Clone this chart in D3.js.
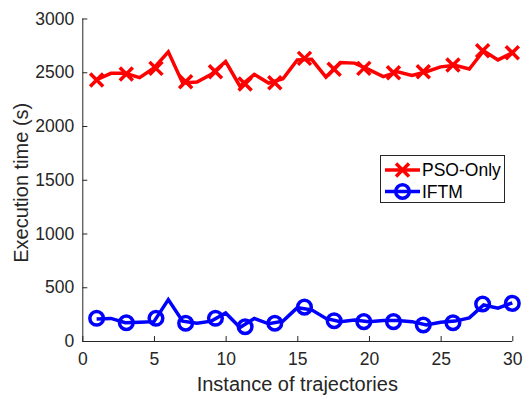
<!DOCTYPE html>
<html><head><meta charset="utf-8">
<script src="https://d3js.org/d3.v7.min.js"></script>
<style>html,body{margin:0;padding:0;background:#fff;}</style>
</head><body>
<script>
const xTicks = [0, 5, 10, 15, 20, 25, 30];
const yTicks = [0, 500, 1000, 1500, 2000, 2500, 3000];
const lineX = d3.range(1, 31);
const psoLine = [2430, 2490, 2490, 2450, 2540, 2690, 2400, 2410, 2480, 2600,
                 2370, 2480, 2400, 2440, 2615, 2620, 2455, 2590, 2585, 2525,
                 2460, 2505, 2470, 2505, 2550, 2565, 2530, 2700, 2615, 2680];
const iftmLine = [205, 210, 170, 175, 180, 385, 185, 165, 185, 260,
                  125, 210, 160, 185, 310, 290, 210, 180, 195, 180,
                  190, 190, 180, 150, 175, 185, 215, 335, 305, 355];
const markerX = [1, 3.07, 5.14, 7.21, 9.29, 11.36, 13.43, 15.5, 17.57, 19.64, 21.71, 23.79, 25.86, 27.93, 30];
const psoMarkers = [2427, 2483, 2536, 2411, 2505, 2390, 2402, 2629, 2527, 2536, 2495, 2505, 2567, 2700, 2681];
const iftmMarkers = [211, 170, 211, 165, 211, 133, 165, 315, 189, 180, 180, 149, 170, 344, 350];
const seriesNames = ["PSO-Only", "IFTM"];
const colors = ["#ff0000", "#0000ff"];

const W = 527, H = 395;
const svg = d3.select("body").append("svg").attr("width", W).attr("height", H)
  .style("font-family", "'Liberation Sans', Arial, Helvetica, sans-serif");
const x = d3.scaleLinear().domain([0, 30]).range([82.3, 512.3]);
const y = d3.scaleLinear().domain([0, 3000]).range([341, 18.5]);
const axisColor = "#262626";

// axes
const xAxis = svg.append("g").attr("transform", `translate(0,${y(0)})`)
  .call(d3.axisBottom(x).tickValues(xTicks).tickSize(-5).tickPadding(12).tickFormat(d3.format("d")));
const yAxis = svg.append("g").attr("transform", `translate(${x(0)},0)`)
  .call(d3.axisLeft(y).tickValues(yTicks).tickSize(-5).tickPadding(8).tickFormat(d3.format("d")));
[xAxis, yAxis].forEach(g => {
  g.select(".domain").attr("stroke", axisColor).attr("stroke-width", 1);
  g.selectAll(".tick line").attr("stroke", axisColor).attr("stroke-width", 1);
  g.selectAll(".tick text").attr("fill", axisColor).style("font-size", "17.5px")
   .style("font-family", "'Liberation Sans', Arial, Helvetica, sans-serif");
});
xAxis.select(".domain").attr("d", `M${x(0)},0.5H${x(30)}`);
yAxis.select(".domain").attr("d", `M0.5,${y(0)}V${y(3000)}`);

svg.append("text").attr("x", (x(0) + x(30)) / 2).attr("y", 391)
  .attr("text-anchor", "middle").attr("fill", axisColor).style("font-size", "20px")
  .text("Instance of trajectories");
svg.append("text").attr("transform", `translate(28,${(y(0) + y(3000)) / 2 + 3}) rotate(-90)`)
  .attr("text-anchor", "middle").attr("fill", axisColor).style("font-size", "20px")
  .text("Execution time (s)");

const line = d3.line().x((d, i) => x(lineX[i])).y(d => y(d));
const lw = 3.5;
function xMark(g, cx, cy, col, s) {
  g.append("path").attr("d", `M${cx - s},${cy - s}L${cx + s},${cy + s}M${cx - s},${cy + s}L${cx + s},${cy - s}`)
    .attr("stroke", col).attr("stroke-width", lw).attr("fill", "none");
}
function oMark(g, cx, cy, col, r) {
  g.append("circle").attr("cx", cx).attr("cy", cy).attr("r", r)
    .attr("stroke", col).attr("stroke-width", lw).attr("fill", "none");
}

// PSO-Only
const g1 = svg.append("g");
g1.append("path").datum(psoLine).attr("d", line).attr("fill", "none")
  .attr("stroke", colors[0]).attr("stroke-width", lw).attr("stroke-linejoin", "miter");
psoMarkers.forEach((v, i) => xMark(g1, x(markerX[i]), y(v), colors[0], 6.5));

// IFTM
const g2 = svg.append("g");
g2.append("path").datum(iftmLine).attr("d", line).attr("fill", "none")
  .attr("stroke", colors[1]).attr("stroke-width", lw).attr("stroke-linejoin", "miter");
iftmMarkers.forEach((v, i) => oMark(g2, x(markerX[i]), y(v), colors[1], 6.8));

// legend
const lg = svg.append("g");
lg.append("rect").attr("x", 380.5).attr("y", 155.5).attr("width", 124).attr("height", 47)
  .attr("fill", "#fff").attr("stroke", axisColor).attr("stroke-width", 1);
seriesNames.forEach((name, i) => {
  const cy = 170 + i * 21.5;
  lg.append("line").attr("x1", 385).attr("x2", 420).attr("y1", cy).attr("y2", cy)
    .attr("stroke", colors[i]).attr("stroke-width", lw);
  if (i === 0) xMark(lg, 402.5, cy, colors[i], 6.5); else oMark(lg, 402.5, cy, colors[i], 6.8);
  lg.append("text").attr("x", 422).attr("y", cy + 6.3).attr("fill", "#000")
    .style("font-size", "17.5px").text(name);
});
</script>
</body></html>
